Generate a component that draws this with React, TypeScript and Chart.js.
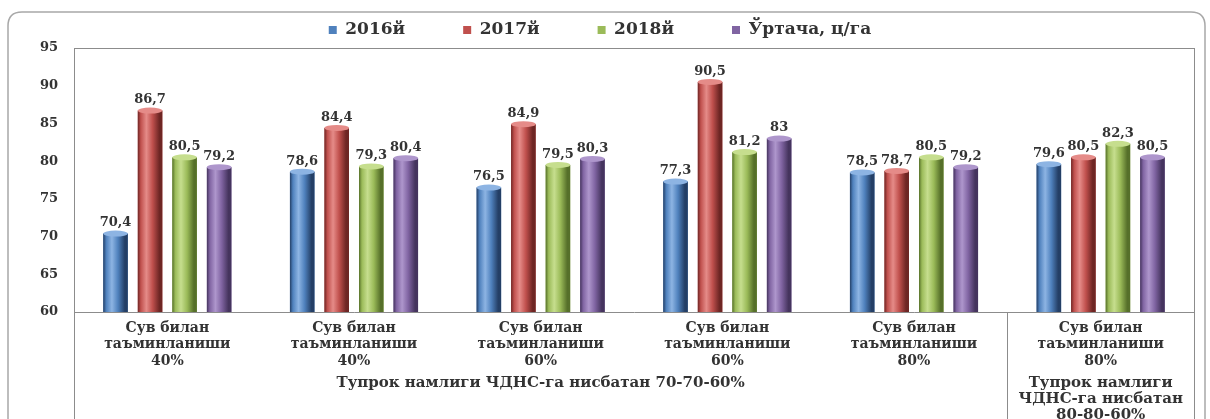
import React, { useEffect, useRef } from 'react';
import { Chart, registerables } from 'chart.js';

Chart.register(...registerables);

const FONT = '"DejaVu Serif", "Liberation Serif", serif';
const TEXT = '#333333';
const LINE = '#8c8c8c';

const categories: string[][] = [
  ['Сув билан', 'таъминланиши', '40%'],
  ['Сув билан', 'таъминланиши', '40%'],
  ['Сув билан', 'таъминланиши', '60%'],
  ['Сув билан', 'таъминланиши', '60%'],
  ['Сув билан', 'таъминланиши', '80%'],
  ['Сув билан', 'таъминланиши', '80%'],
];
const seriesNames = ['2016й', '2017й', '2018й', 'Ўртача, ц/га'];
const values2016 = [70.4, 78.6, 76.5, 77.3, 78.5, 79.6];
const values2017 = [86.7, 84.4, 84.9, 90.5, 78.7, 80.5];
const values2018 = [80.5, 79.3, 79.5, 81.2, 80.5, 82.3];
const valuesAvg = [79.2, 80.4, 80.3, 83, 79.2, 80.5];
const groupLabels: string[][] = [
  ['Тупрок намлиги ЧДНС-га нисбатан 70-70-60%'],
  ['Тупрок намлиги', 'ЧДНС-га нисбатан', '80-80-60%'],
];
const groupFirst = [0, 5];
const groupLast = [4, 5];
const yMin = 60;
const yMax = 95;
const yStep = 5;

const baseColors = ['#4F81BD', '#C0504D', '#9BBB59', '#8064A2'];
const lightColors = ['#8DB4E3', '#E58B88', '#C6DE8E', '#AE96CC'];
const darkColors = ['#243F66', '#6E2624', '#56702A', '#45345E'];

const LEG_PAD = 58;
const LEG_FONT = 17;

const legendFix = {
  id: 'legendFix',
  beforeInit(chart: any) {
    const legend = chart.legend;
    if (legend) {
      const orig = legend.fit;
      legend.fit = function () {
        orig.call(this);
        this.height = 36;
      };
    }
  },
  afterLayout(chart: any) {
    if (chart.legend) {
      chart.legend.top = 30 - LEG_PAD - LEG_FONT / 2;
      chart.legend.left = 6;
    }
  },
};

const decor = {
  id: 'decor',
  beforeDraw(chart: any) {
    const { ctx, width, height } = chart;
    ctx.save();
    ctx.fillStyle = '#ffffff';
    ctx.fillRect(0, 0, width, height);
    ctx.strokeStyle = '#a8a8a8';
    ctx.lineWidth = 1.5;
    const l = 8, t = 12, r = 1205, b = height + 20, rad = 14;
    ctx.beginPath();
    ctx.moveTo(l, b);
    ctx.lineTo(l, t + rad);
    ctx.quadraticCurveTo(l, t, l + rad, t);
    ctx.lineTo(r - rad, t);
    ctx.quadraticCurveTo(r, t, r, t + rad);
    ctx.lineTo(r, b);
    ctx.stroke();
    ctx.restore();
  },
  afterDraw(chart: any) {
    const { ctx, chartArea, height } = chart;
    const xs = chart.scales.x;
    ctx.save();
    ctx.strokeStyle = LINE;
    ctx.lineWidth = 1;
    ctx.beginPath();
    ctx.moveTo(chartArea.left, chartArea.top + 0.5);
    ctx.lineTo(chartArea.right, chartArea.top + 0.5);
    ctx.moveTo(chartArea.right + 0.5, chartArea.top);
    ctx.lineTo(chartArea.right + 0.5, height);
    ctx.moveTo(chartArea.left + 0.5, chartArea.bottom);
    ctx.lineTo(chartArea.left + 0.5, height);
    for (let g = 1; g < groupFirst.length; g++) {
      const sx = Math.round((xs.getPixelForValue(groupLast[g - 1]) + xs.getPixelForValue(groupFirst[g])) / 2) + 0.5;
      ctx.moveTo(sx, chartArea.bottom);
      ctx.lineTo(sx, height);
    }
    ctx.stroke();
    ctx.fillStyle = TEXT;
    ctx.font = `bold 15px ${FONT}`;
    ctx.textAlign = 'center';
    ctx.textBaseline = 'middle';
    groupLabels.forEach((lines, g) => {
      const cx = (xs.getPixelForValue(groupFirst[g]) + xs.getPixelForValue(groupLast[g])) / 2;
      lines.forEach((line, i) => {
        ctx.fillText(line, cx, chartArea.bottom + 71 + i * 16);
      });
    });
    ctx.restore();
  },
  afterDatasetsDraw(chart: any) {
    const { ctx, chartArea } = chart;
    ctx.save();
    chart.data.datasets.forEach((ds: any, di: number) => {
      const meta = chart.getDatasetMeta(di);
      meta.data.forEach((el: any, i: number) => {
        const { x, y, base, width } = el.getProps(['x', 'y', 'base', 'width'], true);
        const bottom = Math.min(base, chartArea.bottom);
        const left = x - width / 2;
        const grad = ctx.createLinearGradient(left, 0, left + width, 0);
        grad.addColorStop(0, darkColors[di]);
        grad.addColorStop(0.12, baseColors[di]);
        grad.addColorStop(0.35, lightColors[di]);
        grad.addColorStop(0.6, baseColors[di]);
        grad.addColorStop(0.88, darkColors[di]);
        grad.addColorStop(1, darkColors[di]);
        ctx.fillStyle = grad;
        ctx.fillRect(left, y, width, bottom - y);
        ctx.beginPath();
        ctx.ellipse(x, y, width / 2, 3, 0, 0, Math.PI * 2);
        ctx.fillStyle = lightColors[di];
        ctx.fill();
        const v = ds.data[i];
        ctx.fillStyle = TEXT;
        ctx.font = `bold 13px ${FONT}`;
        ctx.textAlign = 'center';
        ctx.textBaseline = 'bottom';
        ctx.fillText(String(v).replace('.', ','), x, y - 4);
      });
    });
    ctx.restore();
  },
};

export default function App() {
  const ref = useRef<HTMLCanvasElement | null>(null);
  useEffect(() => {
    document.body.style.margin = '0';
    const canvas = ref.current!;
    const chart = new Chart(canvas, {
      type: 'bar',
      data: {
        labels: categories,
        datasets: [values2016, values2017, values2018, valuesAvg].map((d, i) => ({
          label: seriesNames[i],
          data: d,
          backgroundColor: baseColors[i],
          borderWidth: 0,
          categoryPercentage: 0.74,
          barPercentage: 0.71,
        })),
      },
      options: {
        responsive: false,
        animation: false,
        devicePixelRatio: 1,
        layout: { padding: { top: 12, right: 16, left: 0, bottom: 0 } },
        plugins: {
          tooltip: { enabled: false },
          legend: {
            position: 'top',
            labels: {
              boxWidth: 8,
              boxHeight: 8,
              padding: LEG_PAD,
              color: TEXT,
              font: { family: FONT, weight: 'bold', size: LEG_FONT },
            },
          },
        },
        scales: {
          x: {
            grid: { display: false, drawTicks: false },
            border: { display: true, color: LINE },
            ticks: {
              color: TEXT,
              font: { family: FONT, weight: 'bold', size: 14, lineHeight: 1.17 },
              padding: 8,
              maxRotation: 0,
              autoSkip: false,
            },
            afterFit(s: any) {
              s.height = 107;
            },
          },
          y: {
            min: yMin,
            max: yMax,
            grid: { display: false, drawTicks: false },
            border: { display: true, color: LINE },
            ticks: {
              stepSize: yStep,
              color: TEXT,
              font: { family: FONT, weight: 'bold', size: 13 },
              padding: 16,
            },
            afterFit(s: any) {
              s.width = 74;
            },
          },
        },
      },
      plugins: [legendFix, decor],
    } as any);
    return () => chart.destroy();
  }, []);
  return (
    <div style={{ width: 1210, height: 419, background: '#fff' }}>
      <canvas ref={ref} width={1210} height={419} style={{ display: 'block' }} />
    </div>
  );
}
